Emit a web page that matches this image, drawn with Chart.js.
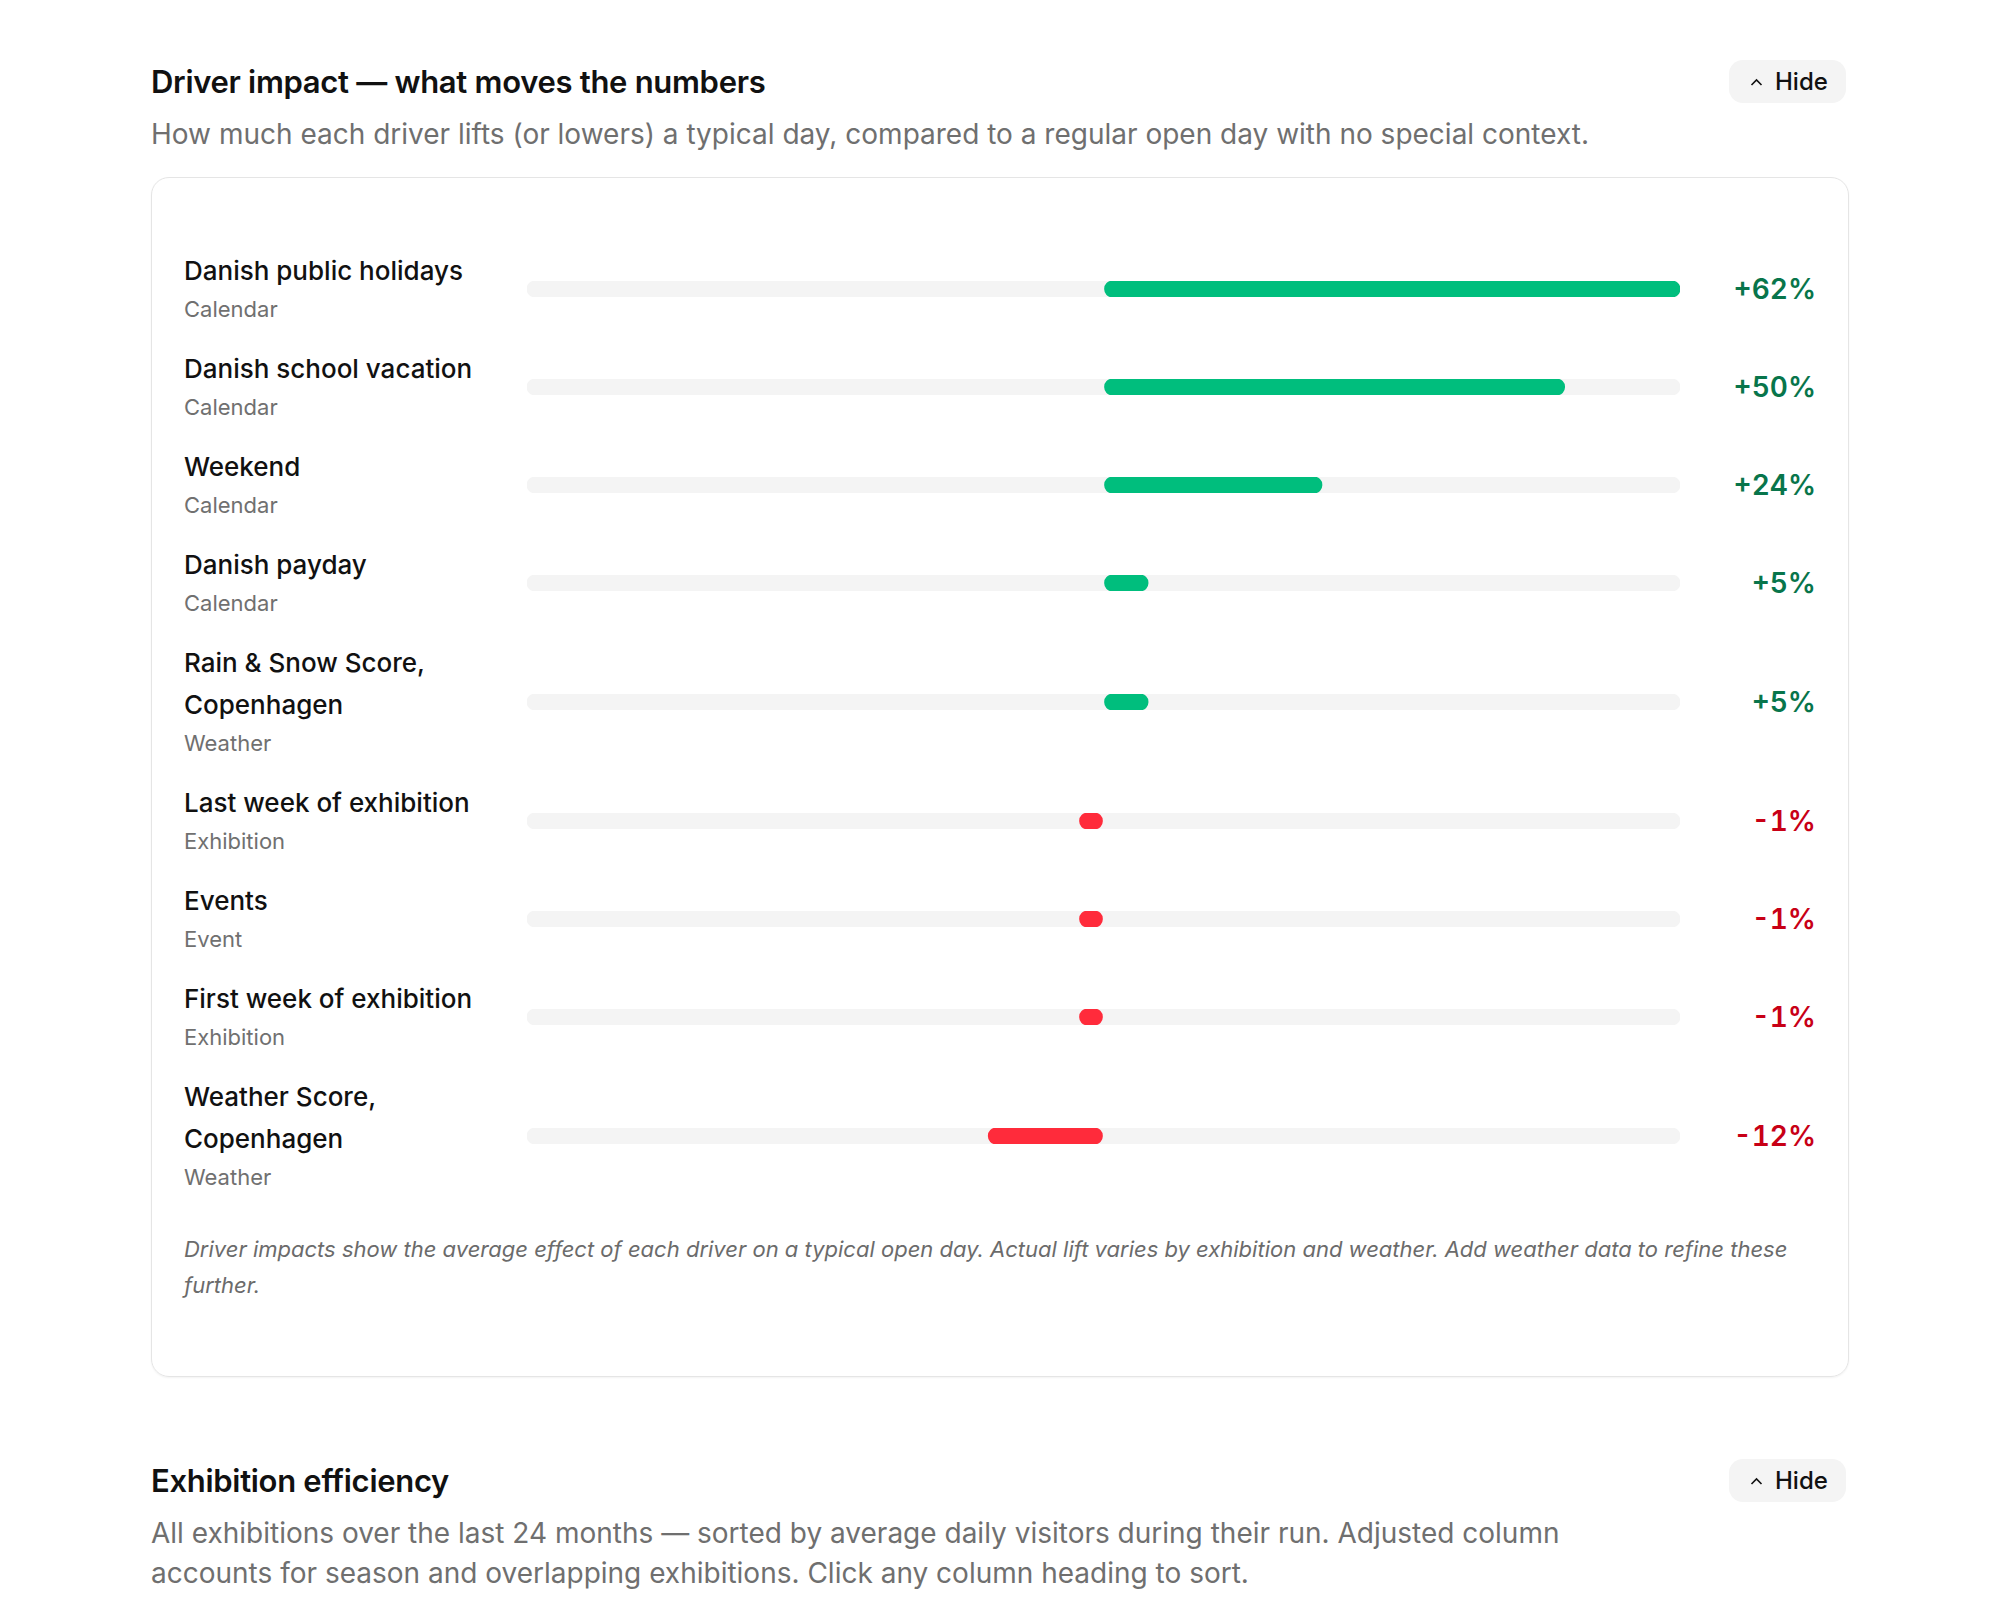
<!DOCTYPE html>
<html lang="en">
<head>
    <meta charset="UTF-8">
    <title>Driver impact</title>
    <script src="https://cdn.jsdelivr.net/npm/chart.js"></script>
    <style>
        body {
            margin: 0;
            background: #ffffff;
            font-family: Inter, "Noto Sans", sans-serif;
            color: #111111;
        }
        .page {
            width: 1698px;
            margin: 0 auto;
            padding-top: 60px;
        }
        .section-head {
            display: flex;
            justify-content: space-between;
            align-items: center;
            height: 43px;
        }
        .section-head h2 {
            margin: 0;
            font-size: 31px;
            font-weight: 600;
            letter-spacing: -0.3px;
        }
        .hide-btn {
            display: flex;
            align-items: center;
            height: 43px;
            width: 117px;
            box-sizing: border-box;
            padding-left: 21px;
            margin-right: 3px;
            border-radius: 14px;
            background: #f4f4f4;
            font-size: 24px;
            font-weight: 500;
            color: #111;
        }
        .hide-btn svg { margin-right: 12px; }
        .section-sub {
            margin: 11px 0 0 0;
            font-size: 28px;
            line-height: 40px;
            color: #6f6f6f;
            max-width: 1500px;
        }
        .card {
            margin-top: 23px;
            border: 1.5px solid #e5e5e5;
            border-radius: 18px;
            box-shadow: 0 1px 2px rgba(0, 0, 0, 0.05);
            padding: 72px 32px 73px 32px;
        }
        .rows {
            display: flex;
            flex-direction: column;
            gap: 21px;
        }
        .row {
            display: grid;
            grid-template-columns: 311px minmax(0, 1fr) 104px;
            column-gap: 32px;
            align-items: center;
        }
        .row .name {
            font-size: 26px;
            font-weight: 500;
            line-height: 42px;
        }
        .row .group {
            font-size: 22px;
            line-height: 35px;
            color: #707070;
        }
        .bar-wrap {
            position: relative;
            height: 16px;
        }
        .row .value {
            text-align: right;
            font-size: 28px;
            font-weight: 600;
            font-variant-numeric: tabular-nums;
        }
        .value.pos { color: #08754b; }
        .value.neg { color: #c80016; }
        .note {
            margin-top: 36px;
            font-size: 22px;
            font-style: italic;
            line-height: 36px;
            color: #6b6b6b;
        }
        .second { margin-top: 82px; }
    </style>
</head>
<body>
<div class="page">
    <div class="section-head">
        <h2>Driver impact — what moves the numbers</h2>
        <div class="hide-btn">
            <svg width="13" height="8" viewBox="0 0 13 8"><polyline points="1.5,7 6.5,2 11.5,7" fill="none" stroke="#111" stroke-width="1.6"/></svg>
            Hide
        </div>
    </div>
    <p class="section-sub">How much each driver lifts (or lowers) a typical day, compared to a regular open day with no special context.</p>

    <div class="card">
        <div class="rows" id="rows"></div>
        <div class="note">Driver impacts show the average effect of each driver on a typical open day. Actual lift varies by exhibition and weather. Add weather data to refine these further.</div>
    </div>

    <div class="second">
        <div class="section-head">
            <h2>Exhibition efficiency</h2>
            <div class="hide-btn">
                <svg width="13" height="8" viewBox="0 0 13 8"><polyline points="1.5,7 6.5,2 11.5,7" fill="none" stroke="#111" stroke-width="1.6"/></svg>
                Hide
            </div>
        </div>
        <p class="section-sub">All exhibitions over the last 24 months — sorted by average daily visitors during their run. Adjusted column accounts for season and overlapping exhibitions. Click any column heading to sort.</p>
    </div>
</div>

<script>
    // Driver data
    const drivers = [
        'Danish public holidays',
        'Danish school vacation',
        'Weekend',
        'Danish payday',
        'Rain & Snow Score, Copenhagen',
        'Last week of exhibition',
        'Events',
        'First week of exhibition',
        'Weather Score, Copenhagen'
    ];
    const groups = ['Calendar', 'Calendar', 'Calendar', 'Calendar', 'Weather', 'Exhibition', 'Event', 'Exhibition', 'Weather'];
    const impacts = [62, 49.6, 23.5, 4.8, 4.8, -1, -1, -1, -12.4]; // % lift vs a regular open day

    const GREEN = '#00be7d';
    const RED = '#ff2b3b';
    const TRACK = '#f4f4f4';

    // both sides of the scale reach the biggest absolute impact
    const limit = Math.max(...impacts.map(v => Math.abs(v)));

    const rowsEl = document.getElementById('rows');

    drivers.forEach((name, i) => {
        const value = impacts[i];
        const shown = Math.round(value);
        const row = document.createElement('div');
        row.className = 'row';
        row.innerHTML = `
            <div>
                <div class="name"></div>
                <div class="group"></div>
            </div>
            <div class="bar-wrap"><canvas></canvas></div>
            <div class="value ${value >= 0 ? 'pos' : 'neg'}">${shown > 0 ? '+' : ''}${shown}%</div>`;
        row.querySelector('.name').textContent = name;
        row.querySelector('.group').textContent = groups[i];
        rowsEl.appendChild(row);

        new Chart(row.querySelector('canvas'), {
            type: 'bar',
            data: {
                labels: [name],
                datasets: [{
                    data: [value],
                    backgroundColor: value >= 0 ? GREEN : RED,
                    borderRadius: 8,
                    borderSkipped: false,
                    minBarLength: 24,
                    grouped: false,
                    order: 0
                }, {
                    // grey track behind the bar, full range of the scale
                    data: [[-limit, limit]],
                    backgroundColor: TRACK,
                    borderRadius: 8,
                    borderSkipped: false,
                    grouped: false,
                    order: 1
                }]
            },
            options: {
                indexAxis: 'y',
                responsive: true,
                maintainAspectRatio: false,
                animation: false,
                events: [],
                layout: { padding: 0 },
                datasets: {
                    bar: { barPercentage: 1, categoryPercentage: 1 }
                },
                scales: {
                    x: {
                        min: -limit,
                        max: limit,
                        z: 1,
                        ticks: { display: false, stepSize: limit },
                        border: { display: false },
                        grid: {
                            drawTicks: false,
                            lineWidth: 2,
                            color: ctx => ctx.tick && ctx.tick.value === 0 ? '#e3e3e3' : 'rgba(0,0,0,0)'
                        }
                    },
                    y: { display: false }
                },
                plugins: {
                    legend: { display: false },
                    tooltip: { enabled: false }
                }
            }
        });
    });
</script>
</body>
</html>
